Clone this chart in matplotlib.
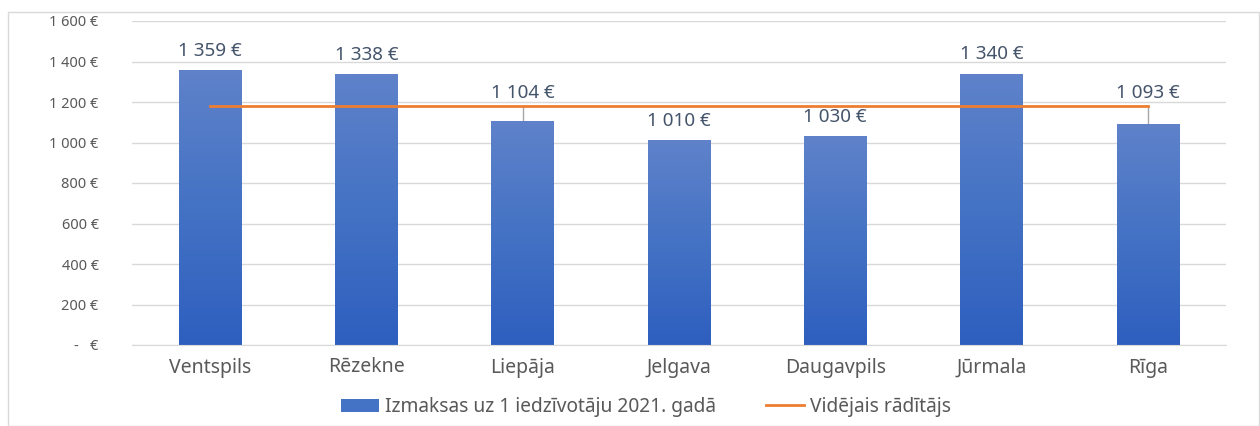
import matplotlib
matplotlib.use("Agg")
import matplotlib.pyplot as plt
import numpy as np
from matplotlib.colors import LinearSegmentedColormap
from matplotlib.patches import Rectangle
from matplotlib.lines import Line2D

categories = ["Ventspils", "Rēzekne", "Liepāja", "Jelgava", "Daugavpils", "Jūrmala", "Rīga"]
values = [1359, 1338, 1104, 1010, 1030, 1340, 1093]
average = [1182] * 7
yticks = [0, 200, 400, 600, 800, 1000, 1200, 1400, 1600]
ytick_labels = ["-   €", "200 €", "400 €", "600 €", "800 €", "1 000 €", "1 200 €", "1 400 €", "1 600 €"]
value_labels = ["1 359 €", "1 338 €", "1 104 €", "1 010 €", "1 030 €", "1 340 €", "1 093 €"]
bar_name = "Izmaksas uz 1 iedzīvotāju 2021. gadā"
line_name = "Vidējais rādītājs"

plt.rcParams['font.family'] = ['Noto Sans', 'DejaVu Sans']
text_col = "#44546A"
tick_col = "#595959"

fig = plt.figure(figsize=(12.6, 4.26), dpi=100)
fig.patches.append(Rectangle((8/1260, 0), 1 - 8/1260 - 0.001, 1 - 12/426, transform=fig.transFigure,
                             fill=False, edgecolor="#D9D9D9", linewidth=1.0))
ax = fig.add_axes([132/1260, 1 - 345/426, (1226 - 132)/1260, (345 - 21)/426])

x = np.arange(len(categories))
width = 0.4
cmap = LinearSegmentedColormap.from_list("g", ["#2E5FBF", "#4472C4", "#5F82CA"])
bars = ax.bar(x, values, width=width, color="#4472C4", zorder=2)
grad = np.linspace(0, 1, 256).reshape(-1, 1)
for b in bars:
    x0, y0 = b.get_x(), b.get_y()
    w, h = b.get_width(), b.get_height()
    im = ax.imshow(grad, extent=[x0, x0 + w, y0, y0 + h], origin="lower", cmap=cmap,
                   aspect="auto", zorder=2.1)
    im.set_clip_path(b)

ax.plot(x, average, color="#ED7D31", linewidth=2.0, zorder=3)

ax.set_xlim(-0.5, len(categories) - 0.5)
ax.set_ylim(0, 1600)
ax.set_yticks(yticks)
ax.set_yticklabels(ytick_labels, fontsize=10.5, color=tick_col)
ax.set_xticks(x)
ax.set_xticklabels(categories, fontsize=14, color=tick_col)
ax.tick_params(axis="both", length=0)
ax.tick_params(axis="y", pad=24)
ax.tick_params(axis="x", pad=9)
ax.grid(axis="y", color="#D9D9D9", linewidth=1.0, zorder=0)
for s in ["top", "right", "left"]:
    ax.spines[s].set_visible(False)
ax.spines["bottom"].set_color("#D9D9D9")

for i, (v, lab) in enumerate(zip(values, value_labels)):
    if i in (2, 6):
        ax.plot([i, i], [v, average[i] - 8], color="#A6A6A6", linewidth=1.0, zorder=1.5)
        ax.text(i, average[i] + 62, lab, ha="center", va="center", fontsize=13.6, color=text_col, zorder=4)
    else:
        ax.text(i, v + 95, lab, ha="center", va="center", fontsize=13.6, color=text_col, zorder=4)

handles = [Rectangle((0, 0), 1, 1, facecolor="#4472C4"),
           Line2D([0], [0], color="#ED7D31", linewidth=2)]
fig.legend(handles, [bar_name, line_name], loc="center", bbox_to_anchor=(646/1260, 1 - 407/426),
           ncol=2, frameon=False, fontsize=13.8, labelcolor=tick_col, handlelength=2.0,
           handletextpad=0.3, columnspacing=2.6)

fig.savefig("out.png", dpi=100)
